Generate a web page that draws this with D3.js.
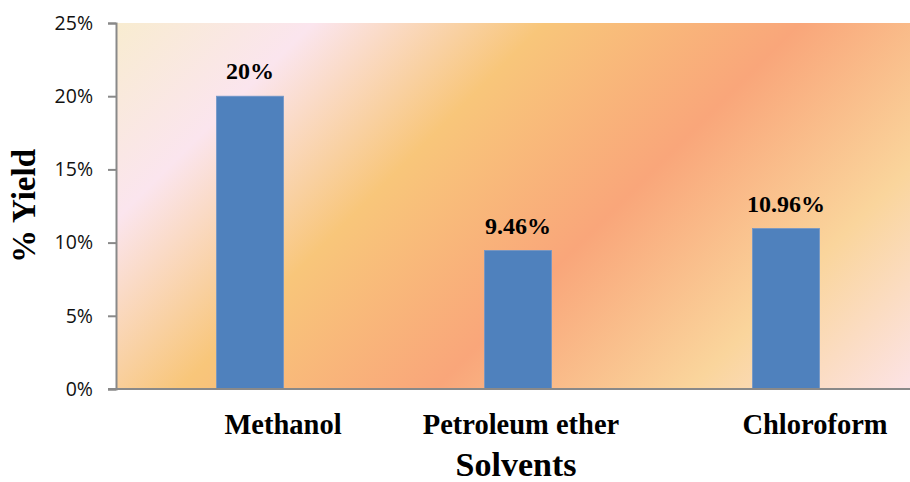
<!DOCTYPE html>
<html>
<head>
<meta charset="utf-8">
<script src="https://cdn.jsdelivr.net/npm/d3@7"></script>
<style>
  html, body { margin: 0; padding: 0; background: #fff; }
  svg { display: block; }
</style>
</head>
<body>
<svg id="chart" width="910" height="482"></svg>
<script>
// Extraction yield per solvent
const solvents = ["Methanol", "Petroleum ether", "Chloroform"];
const yieldPct = [20, 9.46, 10.96];
const valueLabels = ["20%", "9.46%", "10.96%"];
const yTicks = [0, 5, 10, 15, 20, 25];

// Category label horizontal nudges (px) applied to the axis text
const labelNudge = [33, 3, 29];

const W = 910, H = 482;
const plot = { left: 116, right: 920, top: 23, bottom: 389 };

const svg = d3.select("#chart");

// Diagonal multi-stop backdrop for the plot area
const defs = svg.append("defs");
const grad = defs.append("linearGradient")
  .attr("id", "bg")
  .attr("gradientUnits", "userSpaceOnUse")
  .attr("x1", 69.5).attr("y1", 69.5)
  .attr("x2", 649.5).attr("y2", 649.5);
[
  [0.00, "#f8ecd0"],
  [0.17, "#fbe5ee"],
  [0.37, "#f8c67a"],
  [0.59, "#f9a67a"],
  [0.81, "#fad59c"],
  [1.00, "#fce3e6"]
].forEach(([o, c]) => grad.append("stop").attr("offset", o).attr("stop-color", c));

svg.append("rect")
  .attr("x", plot.left).attr("y", plot.top)
  .attr("width", plot.right - plot.left)
  .attr("height", plot.bottom - plot.top)
  .attr("fill", "url(#bg)");

const x = d3.scaleBand()
  .domain(solvents)
  .range([plot.left, plot.right])
  .paddingInner(0.75)
  .paddingOuter(0.375);

const y = d3.scaleLinear()
  .domain([0, 25])
  .range([plot.bottom, plot.top]);

// Bars
svg.append("g").selectAll("rect")
  .data(solvents)
  .join("rect")
  .attr("x", d => x(d))
  .attr("y", (d, i) => y(yieldPct[i]))
  .attr("width", x.bandwidth())
  .attr("height", (d, i) => y(0) - y(yieldPct[i]))
  .attr("fill", "#4f81bd")
  .attr("stroke", "#7096c8")
  .attr("stroke-width", 0.8);

// Value labels above bars
svg.append("g").selectAll("text")
  .data(solvents)
  .join("text")
  .attr("x", d => x(d) + x.bandwidth() / 2)
  .attr("y", (d, i) => y(yieldPct[i]) - 17)
  .attr("text-anchor", "middle")
  .attr("font-family", "'Liberation Serif', 'Times New Roman', serif")
  .attr("font-weight", "bold")
  .attr("font-size", 24)
  .attr("fill", "#000")
  .text((d, i) => valueLabels[i]);

// Y axis
const yAxis = d3.axisLeft(y)
  .tickValues(yTicks)
  .tickFormat(d => d + "%")
  .tickSize(8)
  .tickPadding(15);

const gy = svg.append("g")
  .attr("transform", `translate(${plot.left},0)`)
  .call(yAxis);
gy.select(".domain").attr("stroke", "#898989").attr("stroke-width", 2);
gy.selectAll(".tick line").attr("stroke", "#898989").attr("stroke-width", 2);
gy.selectAll(".tick text")
  .attr("font-family", "'Open Sans', sans-serif")
  .attr("font-size", 19.5)
  .attr("fill", "#111");

// X axis baseline
const gx = svg.append("g")
  .attr("transform", `translate(0,${plot.bottom})`)
  .call(d3.axisBottom(x).tickSize(0).tickFormat(""));
gx.select(".domain")
  .attr("d", `M${plot.left - 8},0H${W}`)
  .attr("stroke", "#898989").attr("stroke-width", 2);

// Category labels
svg.append("g").selectAll("text")
  .data(solvents)
  .join("text")
  .attr("x", (d, i) => x(d) + x.bandwidth() / 2 + labelNudge[i])
  .attr("y", 434)
  .attr("text-anchor", "middle")
  .attr("font-family", "'Liberation Serif', 'Times New Roman', serif")
  .attr("font-weight", "bold")
  .attr("font-size", 28.5)
  .attr("fill", "#000")
  .text(d => d);

// Axis titles
svg.append("text")
  .attr("x", 516).attr("y", 476)
  .attr("text-anchor", "middle")
  .attr("font-family", "'Liberation Serif', 'Times New Roman', serif")
  .attr("font-weight", "bold")
  .attr("font-size", 34)
  .attr("fill", "#000")
  .text("Solvents");

svg.append("text")
  .attr("transform", "translate(35,206) rotate(-90)")
  .attr("text-anchor", "middle")
  .attr("font-family", "'Liberation Serif', 'Times New Roman', serif")
  .attr("font-weight", "bold")
  .attr("font-size", 33)
  .attr("fill", "#000")
  .text("% Yield");
</script>
</body>
</html>
